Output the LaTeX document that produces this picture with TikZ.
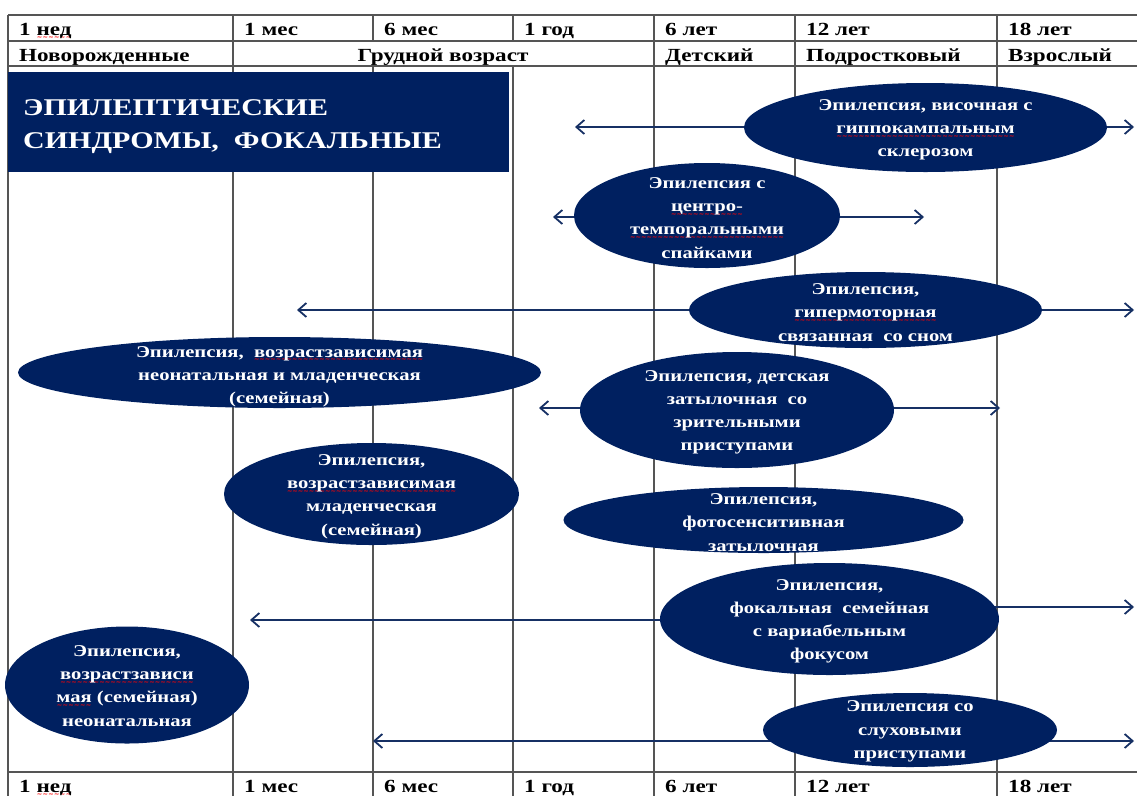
\documentclass[tikz,border=0pt]{standalone}
\usepackage{fontspec}
\usetikzlibrary{shapes.geometric,arrows.meta}
\newfontfamily\serifx{Liberation Serif}[FakeStretch=1.25]
\newfontfamily\wavef{DejaVu Sans}
\definecolor{navy}{RGB}{0,32,96}
\definecolor{arrc}{RGB}{22,48,100}
\definecolor{gridc}{RGB}{85,85,85}
\newsavebox\sqbox
\newcommand\sq[1]{\sbox\sqbox{#1}\leavevmode\rlap{\lower4.4pt\hbox to\wd\sqbox{\color{red}\wavef\fontsize{6.5}{6.5}\selectfont\xleaders\hbox{\char126}\hfil}}\usebox\sqbox}
\pgfdeclarelayer{gridlayer}
\pgfdeclarelayer{arrlayer}
\pgfsetlayers{gridlayer,arrlayer,main}
\tikzset{
  gridline/.style={draw=gridc, line width=1.5pt},
  hdr/.style={anchor=base west, inner sep=0pt, font=\serifx\bfseries\fontsize{18.5}{20}\selectfont},
  ell/.style={ellipse, fill=navy, draw=none, inner sep=0pt},
  etxt/.style={align=center, text=white, inner sep=0pt, yshift=-2.5pt, font=\serifx\bfseries\fontsize{16.5}{23.2}\selectfont},
  ttl/.style={anchor=base west, inner sep=0pt, text=white, font=\serifx\bfseries\fontsize{24}{30}\selectfont},
  arr/.style={draw=arrc, line width=1.8pt, -{Straight Barb[length=8pt,width=14pt]}},
}
\begin{document}
\begin{tikzpicture}[x=1pt,y=-1pt]
\useasboundingbox (0,0) rectangle (1137,796);

% ---------- grid ----------
\begin{pgfonlayer}{gridlayer}
\foreach \yy in {15,41,66,772}
  \draw[gridline] (8,\yy) -- (1137,\yy);
\foreach \xx in {8,233,654,795,997}
  \draw[gridline] (\xx,15) -- (\xx,796);
\foreach \xx in {373,513}{
  \draw[gridline] (\xx,15) -- (\xx,41);
  \draw[gridline] (\xx,66) -- (\xx,796);
}
\end{pgfonlayer}

% ---------- header rows ----------
\node[hdr] (a1) at (19,35) {1 \sq{нед}};
\node[hdr] (a2) at (244,35) {1 мес};
\node[hdr] (a3) at (384,35) {6 мес};
\node[hdr] (a4) at (524,35) {1 год};
\node[hdr] (a5) at (665,35) {6 лет};
\node[hdr] (a6) at (806,35) {12 лет};
\node[hdr] (a7) at (1008,35) {18 лет};

\node[hdr] (b1) at (19,61) {Новорожденные};
\node[hdr, anchor=base] (b2) at (443,61) {Грудной возраст};
\node[hdr] (b3) at (665,61) {Детский};
\node[hdr] (b4) at (806,61) {Подростковый};
\node[hdr] (b5) at (1008,61) {Взрослый};

\node[hdr] (c1) at (19,792) {1 \sq{нед}};
\node[hdr] (c2) at (244,792) {1 мес};
\node[hdr] (c3) at (384,792) {6 мес};
\node[hdr] (c4) at (524,792) {1 год};
\node[hdr] (c5) at (665,792) {6 лет};
\node[hdr] (c6) at (806,792) {12 лет};
\node[hdr] (c7) at (1008,792) {18 лет};

% ---------- title ----------
\node[fill=navy, draw=none, inner sep=0pt, minimum width=501pt, minimum height=100pt, anchor=north west] (tbox) at (8,72) {};
\node[ttl] (t1) at (23,115) {ЭПИЛЕПТИЧЕСКИЕ};
\node[ttl] (t2) at (23,148) {СИНДРОМЫ,\ \ ФОКАЛЬНЫЕ};

% ---------- ellipses ----------
\node[ell, minimum width=363pt, minimum height=89pt] (e1) at (925.5,127.5) {};
\node[etxt] at (e1.center) {Эпилепсия, височная с\\\sq{гиппокампальным}\\склерозом};

\node[ell, minimum width=266pt, minimum height=105pt] (e2) at (707,215.5) {};
\node[etxt] at (e2.center) {Эпилепсия с\\\sq{центро-}\\\sq{темпоральными}\\спайками};

\node[ell, minimum width=353pt, minimum height=76pt] (e3) at (865.5,310) {};
\node[etxt] at (e3.center) {Эпилепсия,\\\sq{гипермоторная}\\связанная\ \ со сном};

\node[ell, minimum width=523pt, minimum height=71pt] (e4) at (279.5,372.5) {};
\node[etxt, yshift=-1.5pt] at (e4.center) {Эпилепсия,\ \ \sq{возрастзависимая}\\неонатальная и младенческая\\(семейная)};

\node[ell, minimum width=314pt, minimum height=116pt] (e5) at (737,410) {};
\node[etxt] at (e5.center) {Эпилепсия, детская\\затылочная\ \ со\\зрительными\\приступами};

\node[ell, minimum width=295pt, minimum height=102pt] (e6) at (371.5,494) {};
\node[etxt] at (e6.center) {Эпилепсия,\\\sq{возрастзависимая}\\младенческая\\(семейная)};

\node[ell, minimum width=400pt, minimum height=66pt] (e7) at (763.5,520) {};
\node[etxt] at (e7.center) {Эпилепсия,\\фотосенситивная\\затылочная};

\node[ell, minimum width=339pt, minimum height=112pt] (e8) at (829.5,619) {};
\node[etxt] at (e8.center) {Эпилепсия,\\фокальная\ \ семейная\\с вариабельным\\фокусом};

\node[ell, minimum width=244pt, minimum height=117pt] (e9) at (127,685) {};
\node[etxt, yshift=1.5pt] at (e9.center) {Эпилепсия,\\\sq{возрастзависи}\\\sq{мая} (семейная)\\неонатальная};

\node[ell, minimum width=294pt, minimum height=74pt] (e10) at (910,730) {};
\node[etxt, yshift=1pt] at (e10.center) {Эпилепсия со\\слуховыми\\приступами};

% ---------- arrow end points ----------
\coordinate (p1l) at (575,127);
\coordinate (p1r) at (1134,127);
\coordinate (p2l) at (553,217);
\coordinate (p2r) at (924,217);
\coordinate (p3l) at (297,310);
\coordinate (p3r) at (1134,310);
\coordinate (p5l) at (539,408);
\coordinate (p5r) at (1000,408);
\coordinate (p8l) at (250,620);
\coordinate (p8r) at (1134,607);
\coordinate (p10l) at (373,741);
\coordinate (p10r) at (1134,741);

\begin{pgfonlayer}{arrlayer}
\draw[arr] (e1.center |- p1l) -- (p1l);
\draw[arr] (e1.center |- p1r) -- (p1r);
\draw[arr] (e2.center |- p2l) -- (p2l);
\draw[arr] (e2.center |- p2r) -- (p2r);
\draw[arr] (e3.center |- p3l) -- (p3l);
\draw[arr] (e3.center |- p3r) -- (p3r);
\draw[arr] (e5.center |- p5l) -- (p5l);
\draw[arr] (e5.center |- p5r) -- (p5r);
\draw[arr] (e8.center |- p8l) -- (p8l);
\draw[arr] (e8.center |- p8r) -- (p8r);
\draw[arr] (e10.center |- p10l) -- (p10l);
\draw[arr] (e10.center |- p10r) -- (p10r);
\end{pgfonlayer}
\end{tikzpicture}
\end{document}
